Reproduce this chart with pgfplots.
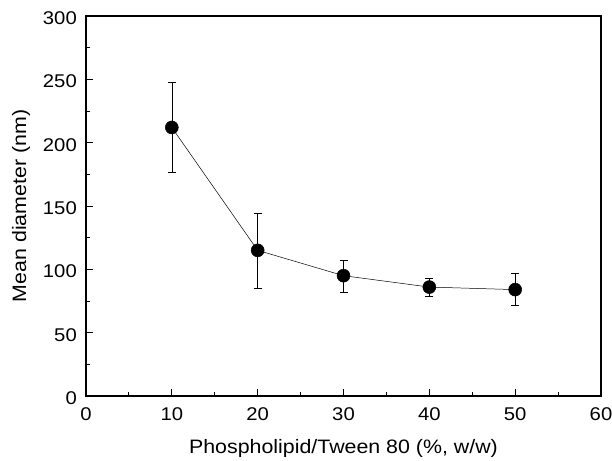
\documentclass[border=0pt]{standalone}
\usepackage{pgfplots}
\pgfplotsset{compat=1.18}
\usepackage{fontspec}
\setmainfont{Liberation Sans}[FakeStretch=1.1]

\begin{document}
\begin{tikzpicture}
\begin{axis}[
  scale only axis,
  width=515bp, height=380bp,
  xmin=0, xmax=60, ymin=0, ymax=300,
  xtick={0,10,...,60}, ytick={0,50,...,300},
  minor x tick num=1, minor y tick num=1,
  xtick pos=left, ytick pos=left,
  tick align=inside,
  major tick length=7bp, minor tick length=4bp,
  every tick/.style={black, line width=1pt},
  axis line style={line width=1.3pt},
  /pgf/number format/assume math mode=true,
  ticklabel style={font=\fontsize{18.5}{21}\selectfont, inner sep=0pt},
  xticklabel style={anchor=center, yshift=-18bp},
  yticklabel style={anchor=east, xshift=-9bp, yshift=-2bp},
  label style={font=\fontsize{19.5}{22}\selectfont},
  xlabel={Phospholipid/Tween 80 (\%, w/w)},
  ylabel={Mean diameter (nm)},
  xlabel style={at={(axis description cs:0.5,0)}, anchor=center, yshift=-52bp},
  ylabel style={at={(axis description cs:0,0.5)}, anchor=center, yshift=65bp},
]
\coordinate (sw) at (rel axis cs:0,0);
\coordinate (ne) at (rel axis cs:1,1);
\addplot[black, line width=0.5pt, mark=*, mark size=6.5bp,
  mark options={fill=black},
  error bars/.cd, y dir=both, y explicit,
  error bar style={line width=0.6pt},
  error mark options={rotate=90, mark size=4bp, line width=0.6pt}]
coordinates {
  (10,212) += (0,36) -= (0,35)
  (20,115) += (0,29) -= (0,30)
  (30,95) += (0,12) -= (0,13)
  (40,86) += (0,7) -= (0,7)
  (50,84) += (0,13) -= (0,12)
};
\end{axis}
\pgfresetboundingbox
\path ([shift={(-86bp,-64bp)}]sw) rectangle ([shift={(11bp,16bp)}]ne);
\end{tikzpicture}
\end{document}
